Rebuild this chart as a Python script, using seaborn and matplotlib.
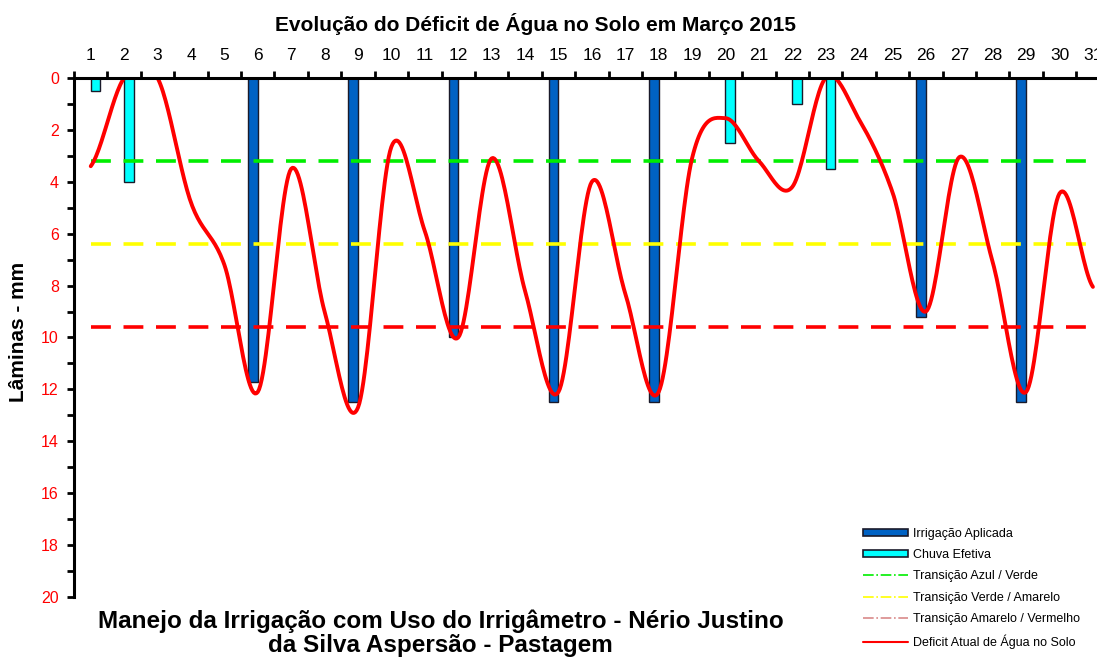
import numpy as np
import pandas as pd
import matplotlib
matplotlib.use('Agg')
import matplotlib.pyplot as plt
from matplotlib.lines import Line2D
from matplotlib.patches import Patch
import seaborn as sns


#Data (days of March 2015, values in mm)
dias = list(range(1, 32))
irrigacao = [np.nan, np.nan, np.nan, np.nan, np.nan, 11.7, np.nan, np.nan, 12.5, np.nan,
             np.nan, 10.0, np.nan, np.nan, 12.5, np.nan, np.nan, 12.5, np.nan, np.nan,
             np.nan, np.nan, np.nan, np.nan, np.nan, 9.2, np.nan, np.nan, 12.5, np.nan, np.nan]
chuva = [0.5, 4.0, np.nan, np.nan, np.nan, np.nan, np.nan, np.nan, np.nan, np.nan,
         np.nan, np.nan, np.nan, np.nan, np.nan, np.nan, np.nan, np.nan, np.nan, 2.5,
         np.nan, 1.0, 3.5, np.nan, np.nan, np.nan, np.nan, np.nan, np.nan, np.nan, np.nan]
deficit = [3.4, 0.0, 0.0, 4.8, 7.2, 12.1, 3.5, 9.0, 12.7, 2.65,
           5.9, 10.0, 3.1, 8.2, 12.1, 4.0, 8.3, 12.1, 3.1, 1.55,
           3.2, 4.2, 0.0, 1.6, 4.4, 9.0, 3.05, 7.1, 12.1, 4.45, 8.05]
transicoes = [3.2, 6.4, 9.6]
cores_transicao = ['#00ee00', '#ffff00', '#ff0000']


#Long table for seaborn (only days with a bar)
df = pd.DataFrame({'dia': dias * 2,
                   'lamina': irrigacao + chuva,
                   'serie': ['Irrigação Aplicada'] * 31 + ['Chuva Efetiva'] * 31}).dropna()


#Excel style smooth line (cardinal spline through the daily points)
def suaviza(y, n=25):
    y = np.asarray(y, dtype=float)
    xs, ys = [], []
    for i in range(len(y) - 1):
        p0 = y[max(i - 1, 0)]
        p1 = y[i]
        p2 = y[i + 1]
        p3 = y[min(i + 2, len(y) - 1)]
        t = np.linspace(0, 1, n, endpoint=False)
        ys.append(0.5 * ((2 * p1) + (-p0 + p2) * t + (2 * p0 - 5 * p1 + 4 * p2 - p3) * t ** 2
                         + (-p0 + 3 * p1 - 3 * p2 + p3) * t ** 3))
        xs.append(i + t)
    xs.append([len(y) - 1])
    ys.append([y[-1]])
    return np.concatenate(xs), np.concatenate(ys)


sns.set_style('white')
plt.rcParams['font.family'] = ['Liberation Sans', 'DejaVu Sans']
plt.rcParams['text.color'] = 'black'
plt.rcParams['xtick.color'] = 'black'
plt.rcParams['ytick.color'] = 'black'

fig = plt.figure(figsize=(10.97, 6.58), dpi=100)
ax = fig.add_axes([0.0675, 0.0927, 0.944, 0.7888])

#Bars
sns.barplot(data=df, x='dia', y='lamina', hue='serie', order=dias,
            hue_order=['Irrigação Aplicada', 'Chuva Efetiva'], dodge=True,
            palette=['#0062c4', '#00ffff'], saturation=1, width=0.58, errorbar=None,
            edgecolor='#1a1a2a', linewidth=1.0, legend=False, ax=ax, zorder=2)

#Transition lines
pos = np.arange(len(dias))
for v, c in zip(transicoes, cores_transicao):
    ax.plot(pos, [v] * len(pos), color=c, lw=2.6, dashes=(5.5, 3.5), zorder=3)

#Deficit curve
xs, ys = suaviza(deficit)
ax.plot(xs, ys, color='#ff0000', lw=2.8, zorder=4, solid_capstyle='round')

#Axes formatting
ax.set_xlim(-0.5, 30.5)
ax.set_ylim(20, 0)
ax.xaxis.tick_top()
ax.set_xticks(pos)
ax.set_xticklabels([str(d) for d in dias], fontsize=12.5, color='black')
ax.set_xticks(np.arange(-0.5, 31, 1), minor=True)
ax.tick_params(axis='x', which='major', length=0, pad=11)
ax.tick_params(axis='x', which='minor', length=5, width=2, color='black', direction='out', top=True, bottom=False)
ax.set_yticks(np.arange(0, 21, 2))
ax.set_yticks(np.arange(1, 20, 2), minor=True)
ax.set_yticklabels([str(v) for v in range(0, 21, 2)], fontsize=11.5, color='#ff0000')
ax.tick_params(axis='y', which='both', length=5, width=2, color='black', direction='out', left=True, pad=6)
ax.set_xlabel('')
ax.set_ylabel('')
for s in ['bottom', 'right']:
    ax.spines[s].set_visible(False)
for s in ['top', 'left']:
    ax.spines[s].set_linewidth(2.2)
    ax.spines[s].set_color('black')
    ax.spines[s].set_zorder(5)

#Texts
fig.text(0.488, 0.963, 'Evolução do Déficit de Água no Solo em Março 2015',
         ha='center', va='center', fontsize=15, fontweight='bold')
fig.text(0.017, 0.495, 'Lâminas - mm', rotation=90, ha='center', va='center',
         fontsize=15, fontweight='bold')
fig.text(0.402, 0.0456, 'Manejo da Irrigação com Uso do Irrigâmetro - Nério Justino',
         ha='center', va='baseline', fontsize=17.5, fontweight='bold')
fig.text(0.401, 0.009, 'da Silva Aspersão - Pastagem',
         ha='center', va='baseline', fontsize=17.5, fontweight='bold')

#Legend
handles = [Patch(facecolor='#0062c4', edgecolor='#1a1a2a', lw=1.2, label='Irrigação Aplicada'),
           Patch(facecolor='#00ffff', edgecolor='#1a1a2a', lw=1.2, label='Chuva Efetiva'),
           Line2D([], [], color='#00ee00', lw=1.2, ls='-.', label='Transição Azul / Verde'),
           Line2D([], [], color='#ffff00', lw=1.2, ls='-.', label='Transição Verde / Amarelo'),
           Line2D([], [], color='#d98a8a', lw=1.2, ls='-.', label='Transição Amarelo / Vermelho'),
           Line2D([], [], color='#ff0000', lw=1.5, label='Deficit Atual de Água no Solo')]
fig.legend(handles=handles, loc='upper left', bbox_to_anchor=(0.787, 0.198), frameon=False,
           fontsize=9, handlelength=3.6, handleheight=0.5, labelspacing=0.75, handletextpad=0.4,
           borderaxespad=0, borderpad=0)

fig.savefig('out.png', dpi=100)
